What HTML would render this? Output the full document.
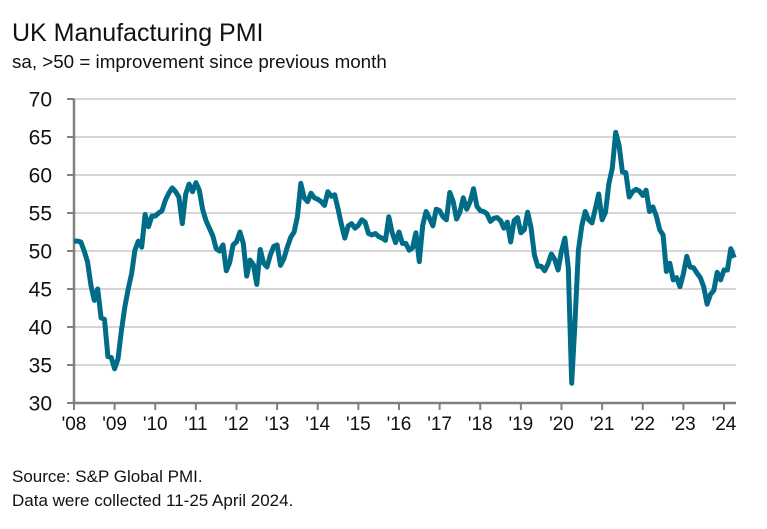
<!DOCTYPE html>
<html><head><meta charset="utf-8"><style>
body{margin:0;background:#fff;font-family:"Liberation Sans",sans-serif;}
svg{display:block}
</style></head><body>
<svg width="767" height="529" xmlns="http://www.w3.org/2000/svg">
<text x="12" y="41" font-size="25" fill="#111">UK Manufacturing PMI</text>
<text x="12" y="68" font-size="18.8" fill="#111">sa, &gt;50 = improvement since previous month</text>
<g id="grid"></g><g id="yt"></g><g id="xt"></g>
<path id="line" fill="none" stroke="#006c87" stroke-width="5" stroke-linejoin="round"/>
<text x="12" y="482" font-size="17" fill="#111">Source: S&amp;P Global PMI.</text>
<text x="12" y="506" font-size="17" fill="#111">Data were collected 11-25 April 2024.</text>
</svg>
<script>
const yTicks=[30,35,40,45,50,55,60,65,70];
const xLabels=["'08","'09","'10","'11","'12","'13","'14","'15","'16","'17","'18","'19","'20","'21","'22","'23","'24"];
const startYear=2008;
const pmi=[
51.3,51.3,51.2,50.0,48.6,45.5,43.5,45.0,41.2,41.0,36.1,36.0,
34.5,35.8,39.5,42.6,45.0,47.0,50.1,51.3,50.5,54.8,53.2,54.6,
54.6,55.0,55.3,56.7,57.6,58.3,57.8,57.1,53.6,57.5,58.8,57.8,
59.0,58.0,55.5,54.0,53.0,52.0,50.3,50.0,50.8,47.4,48.5,50.8,
51.2,52.5,51.0,46.7,48.8,48.2,45.6,50.2,48.4,47.9,49.5,50.6,
50.8,48.1,49.0,50.5,51.8,52.5,54.5,58.9,57.0,56.5,57.6,57.0,
56.8,56.5,56.0,57.8,57.2,57.4,55.5,53.5,51.7,53.3,53.6,53.0,
53.4,54.1,53.8,52.3,52.1,52.3,51.9,51.7,51.4,54.5,52.4,51.1,
52.5,51.0,51.0,50.1,50.4,52.4,48.6,53.4,55.2,54.3,53.3,55.5,
55.3,54.5,54.1,57.7,56.5,54.2,55.1,57.0,55.5,56.5,58.2,55.9,
55.3,55.2,54.9,53.9,54.3,54.4,54.0,53.0,53.8,51.2,54.0,54.4,
52.4,52.8,55.1,53.1,49.5,48.0,48.0,47.4,48.3,49.6,48.9,47.5,
50.0,51.7,47.8,32.6,40.7,50.1,53.3,55.2,54.1,53.7,55.6,57.5,
54.1,55.1,58.9,60.9,65.6,63.9,60.4,60.3,57.1,57.8,58.1,57.9,
57.3,58.0,55.2,55.8,54.6,52.8,52.1,47.3,48.4,46.2,46.5,45.3,
47.0,49.3,47.9,47.8,47.1,46.5,45.3,43.0,44.3,44.8,47.2,46.2,
47.5,47.5,50.3,49.1];
const X0=74,YW=40.625,Y0=403,PX=7.6;
const xs=i=>X0+(i/12)*YW;
const ys=v=>Y0-(v-30)*PX;
const NS="http://www.w3.org/2000/svg";
const grid=document.getElementById('grid'),yt=document.getElementById('yt'),xt=document.getElementById('xt');
yTicks.forEach(v=>{
 if(v>30){const l=document.createElementNS(NS,'line');
 l.setAttribute('x1',X0);l.setAttribute('x2',736);l.setAttribute('y1',ys(v));l.setAttribute('y2',ys(v));
 l.setAttribute('stroke','#d6d6d6');l.setAttribute('stroke-width','2');
 
 
 grid.appendChild(l);}
 const t=document.createElementNS(NS,'line');
 t.setAttribute('x1',X0-7);t.setAttribute('x2',X0);t.setAttribute('y1',ys(v));t.setAttribute('y2',ys(v));
 t.setAttribute('stroke','#808080');t.setAttribute('stroke-width','2');
 
 
 yt.appendChild(t);
 const tx=document.createElementNS(NS,'text');
 tx.setAttribute('x',52);tx.setAttribute('y',ys(v)+7.5);tx.setAttribute('text-anchor','end');tx.setAttribute('font-size','21');tx.setAttribute('fill','#111');
 
 
 tx.textContent=v;yt.appendChild(tx);
});
const ax=document.createElementNS(NS,'path');
ax.setAttribute('d',`M${X0} ${ys(70)}V${Y0}H736`);ax.setAttribute('stroke','#808080');ax.setAttribute('stroke-width','2.5');ax.setAttribute('fill','none');


xt.appendChild(ax);
xLabels.forEach((s,k)=>{
 const x=X0+k*YW;
 const t=document.createElementNS(NS,'line');
 t.setAttribute('x1',x);t.setAttribute('x2',x);t.setAttribute('y1',Y0);t.setAttribute('y2',Y0+7);
 t.setAttribute('stroke','#808080');t.setAttribute('stroke-width','2');
 
 
 xt.appendChild(t);
 const tx=document.createElementNS(NS,'text');
 tx.setAttribute('x',x);tx.setAttribute('y',430);tx.setAttribute('text-anchor','middle');tx.setAttribute('font-size','19');tx.setAttribute('fill','#111');
 
 
 tx.textContent=s;xt.appendChild(tx);
});
document.getElementById('line').setAttribute('d',pmi.map((v,i)=>(i?'L':'M')+xs(i).toFixed(1)+' '+ys(v).toFixed(1)).join(''));
</script>
</body></html>
